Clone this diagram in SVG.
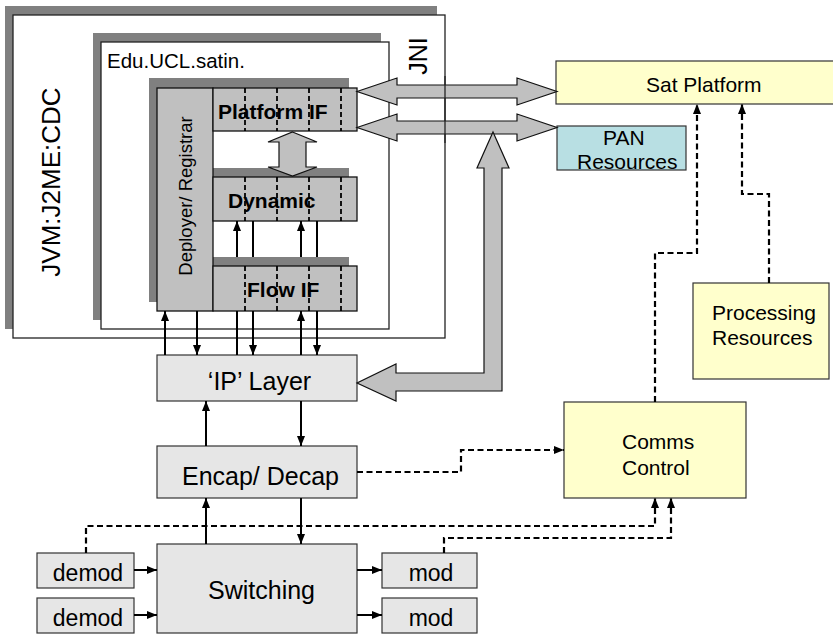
<svg xmlns="http://www.w3.org/2000/svg" width="833" height="634" viewBox="0 0 833 634">
<style>
text{font-family:"Liberation Sans",Arial,sans-serif;fill:#000}
.shadow{fill:#808080}
.frame{fill:#fff;stroke:#222;stroke-width:1.3}
.ifbox{fill:#c0c0c0;stroke:#111;stroke-width:1.3}
.gbox{fill:#e6e6e6;stroke:#333;stroke-width:1.2}
.ybox{fill:#ffffcc;stroke:#333;stroke-width:1.2}
.pan{fill:#b8dfe3;stroke:#333;stroke-width:1.2}
.div{stroke:#000;stroke-width:1.8;stroke-dasharray:5 3;fill:none}
.big{fill:#c0c0c0;stroke:#111;stroke-width:1.2;stroke-linejoin:miter}
.sol{stroke:#000;stroke-width:2;fill:none}
.dash{stroke:#000;stroke-width:2.2;fill:none;stroke-dasharray:6 3.5}
.bold{font-weight:bold;font-size:21px}
.f21{font-size:21px}
.f25{font-size:25px}
.f23{font-size:23px}
</style>
<defs>
<marker id="ah" viewBox="0 0 10 8" refX="10" refY="4" markerWidth="10" markerHeight="8" markerUnits="userSpaceOnUse" orient="auto">
<path d="M0,0 L10,4 L0,8 z" fill="#000"/>
</marker>
</defs>

<g id="jvm">
<rect class="shadow" x="5" y="6" width="432" height="323"/>
<rect class="frame" x="13" y="15" width="432" height="323"/>
<text style="font-size:26px" text-anchor="middle" transform="translate(60,182) rotate(-90)">JVM:J2ME:CDC</text>
<text class="f25" text-anchor="middle" transform="translate(427,56) rotate(-90)">JNI</text>
</g>

<g id="edu">
<rect class="shadow" x="93" y="33" width="288" height="287"/>
<rect class="frame" x="101" y="42" width="288" height="287"/>
<text x="107" y="68" style="font-size:20.5px">Edu.UCL.satin.</text>
</g>

<g id="shadows">
<rect class="shadow" x="149" y="78" width="56" height="224"/>
<rect class="shadow" x="205" y="78" width="144" height="44"/>
<rect class="shadow" x="205" y="168" width="144" height="44"/>
<rect class="shadow" x="205" y="257" width="144" height="45"/>
</g>

<g id="deployer">
<rect class="ifbox" x="157" y="88" width="56" height="223"/>
<text style="font-size:18.5px" text-anchor="middle" transform="translate(192,196) rotate(-90)">Deployer/ Registrar</text>
</g>

<g id="platformif">
<rect class="ifbox" x="213" y="88" width="144" height="43"/>
<path class="div" d="M245,88V131M277,88V131M309,88V131M341,88V131"/>
<text class="bold" x="218" y="119">Platform IF</text>
</g>

<g id="dynamic">
<rect class="ifbox" x="213" y="177" width="144" height="44"/>
<path class="div" d="M245,177V221M277,177V221M309,177V221M341,177V221"/>
<text class="bold" x="228" y="208">Dynamic</text>
</g>

<g id="flowif">
<rect class="ifbox" x="213" y="266" width="144" height="45"/>
<path class="div" d="M245,266V311M277,266V311M309,266V311M341,266V311"/>
<text class="bold" x="247" y="297">Flow IF</text>
</g>

<g id="satplatform">
<rect class="ybox" x="556" y="61" width="290" height="43"/>
<text class="f21" x="646" y="92">Sat Platform</text>
</g>

<g id="pan">
<rect class="pan" x="557" y="126" width="129" height="44"/>
<text class="f21" x="603" y="145">PAN</text>
<text class="f21" x="577" y="169">Resources</text>
</g>

<g id="processing">
<rect class="ybox" x="693" y="283" width="136" height="96"/>
<text class="f21" x="712" y="320">Processing</text>
<text class="f21" x="712" y="345">Resources</text>
</g>

<g id="comms">
<rect class="ybox" x="564" y="402" width="182" height="96"/>
<text class="f21" x="622" y="449">Comms</text>
<text class="f21" x="622" y="475">Control</text>
</g>

<g id="iplayer">
<rect class="gbox" x="157" y="355" width="200" height="46"/>
<text class="f25" x="259.5" y="390" text-anchor="middle">‘IP’ Layer</text>
</g>

<g id="encap">
<rect class="gbox" x="157" y="446" width="200" height="52"/>
<text class="f25" x="260.5" y="485" text-anchor="middle">Encap/ Decap</text>
</g>

<g id="switching">
<rect class="gbox" x="157" y="544" width="200" height="89"/>
<text class="f25" x="261.5" y="599" text-anchor="middle">Switching</text>
</g>

<g id="demod1">
<rect class="gbox" x="37" y="553" width="97" height="35"/>
<text class="f23" x="88" y="581" text-anchor="middle">demod</text>
</g>
<g id="demod2">
<rect class="gbox" x="37" y="598" width="97" height="35"/>
<text class="f23" x="88" y="626" text-anchor="middle">demod</text>
</g>
<g id="mod1">
<rect class="gbox" x="382" y="553" width="95" height="35"/>
<text class="f23" x="431" y="581" text-anchor="middle">mod</text>
</g>
<g id="mod2">
<rect class="gbox" x="382" y="598" width="95" height="35"/>
<text class="f23" x="431" y="626" text-anchor="middle">mod</text>
</g>

<g id="connectors">
<polygon class="big" points="357,91.5 397,78 397,85 517,85 517,78 557,91.5 517,105 517,98 397,98 397,105"/>
<polygon class="big" points="357,127.5 397,114 397,121 517,121 517,114 557,127.5 517,141 517,134 397,134 397,141"/>
<polygon class="big" points="292.5,132 317,142 306,142 306,167 317,167 292.5,176 268,167 279,167 279,142 268,142"/>
<polygon class="big" points="493,132 509,168 502,168 502,391 396,391 396,401 357,383 396,364 396,373 484,373 484,168 477,168"/>
<line x1="445" y1="76" x2="445" y2="143" stroke="#222" stroke-width="1.3"/>

<path class="sol" d="M165,355V311" marker-end="url(#ah)"/>
<path class="sol" d="M197,311V355" marker-end="url(#ah)"/>
<path class="sol" d="M237,311V355"/>
<path class="sol" d="M253,311V355" marker-end="url(#ah)"/>
<path class="sol" d="M301,355V311" marker-end="url(#ah)"/>
<path class="sol" d="M317,311V355" marker-end="url(#ah)"/>

<path class="sol" d="M237,257V221" marker-end="url(#ah)"/>
<path class="sol" d="M253,257V221"/>
<path class="sol" d="M301,257V221" marker-end="url(#ah)"/>
<path class="sol" d="M317,257V221"/>

<path class="sol" d="M206,446V401" marker-end="url(#ah)"/>
<path class="sol" d="M301,401V446" marker-end="url(#ah)"/>
<path class="sol" d="M206,544V498" marker-end="url(#ah)"/>
<path class="sol" d="M301,498V544" marker-end="url(#ah)"/>

<path class="sol" d="M134,570H157" marker-end="url(#ah)"/>
<path class="sol" d="M134,615H157" marker-end="url(#ah)"/>
<path class="sol" d="M357,570H382" marker-end="url(#ah)"/>
<path class="sol" d="M357,615H382" marker-end="url(#ah)"/>

<path class="dash" d="M357,472H461V450H564" marker-end="url(#ah)"/>
<path class="dash" d="M86,553V526H655V498" marker-end="url(#ah)"/>
<path class="dash" d="M444,553V538H671V498" marker-end="url(#ah)"/>
<path class="dash" d="M655,402V253H697V104" marker-end="url(#ah)"/>
<path class="dash" d="M769,283V194H742V104" marker-end="url(#ah)"/>
</g>
</svg>
